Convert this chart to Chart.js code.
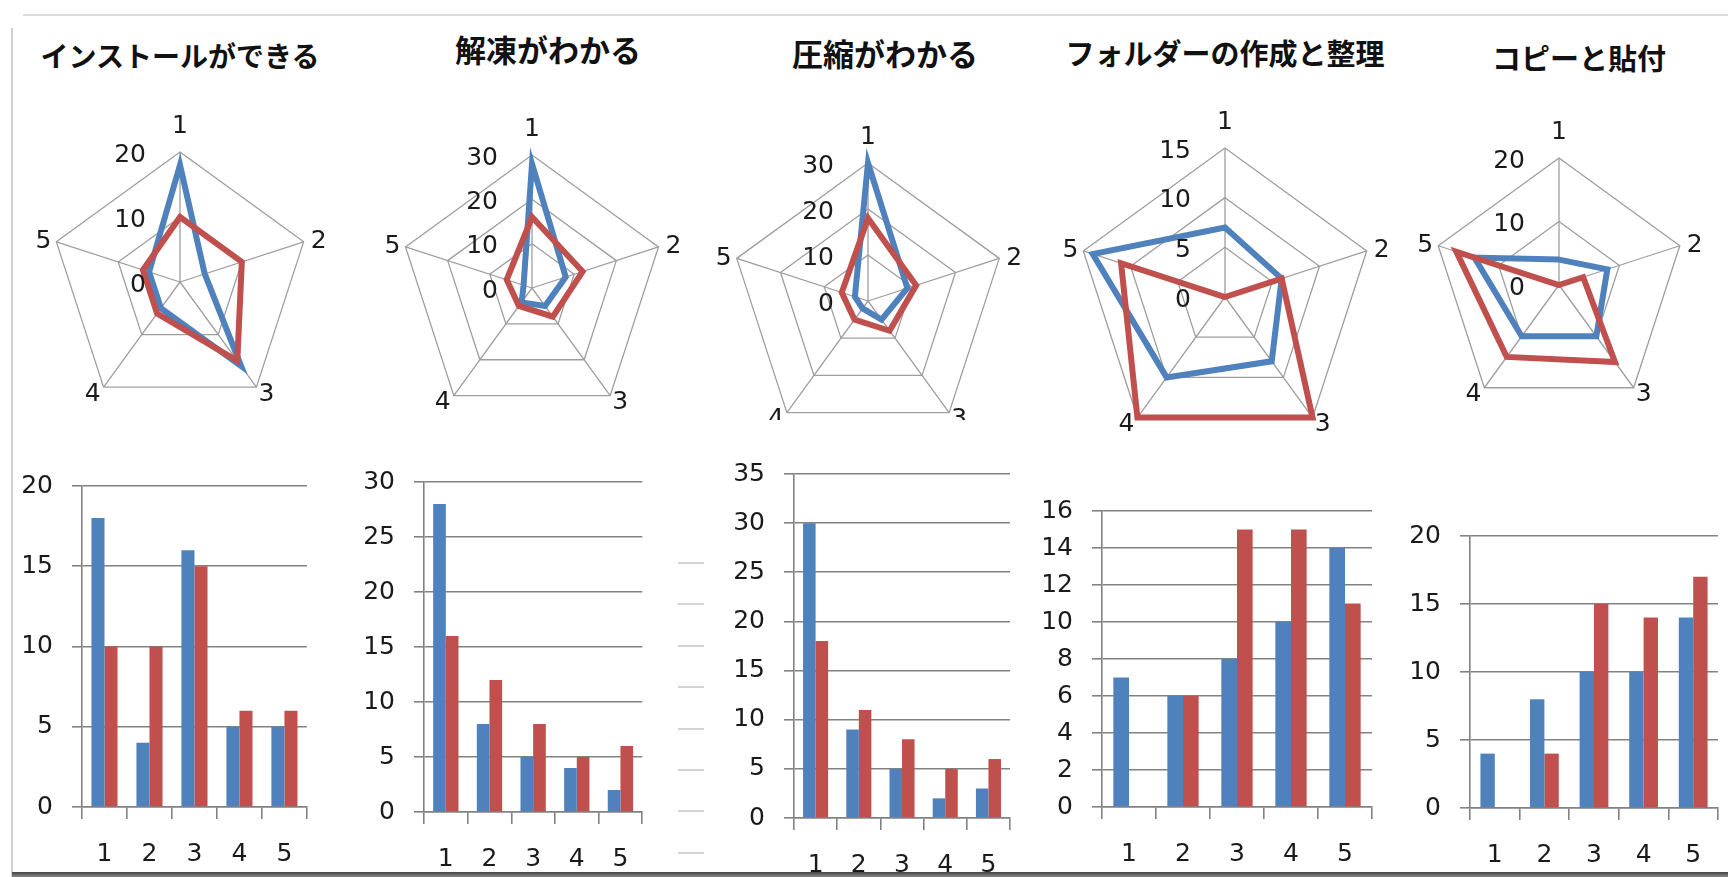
<!DOCTYPE html>
<html lang="ja">
<head>
<meta charset="utf-8">
<script src="https://cdn.jsdelivr.net/npm/chart.js@4.4.1/dist/chart.umd.min.js"></script>
<style>
  html, body { margin: 0; padding: 0; background: #fff; }
  body { width: 1728px; height: 877px; position: relative; overflow: hidden; }
  .title {
    position: absolute;
    font-family: "Noto Sans CJK JP", sans-serif;
    font-weight: 700;
    color: #111;
    white-space: nowrap;
    line-height: 1;
    transform: translate(-50%, -50%);
  }
  .frame-top { position: absolute; left: 23px; top: 14px; width: 1705px; height: 2px; background: #dcdcdc; }
  .frame-left { position: absolute; left: 11px; top: 28px; width: 2px; height: 849px; background: #d0d0d0; }
  .frame-bottom { position: absolute; left: 12px; top: 872px; width: 1716px; height: 5px; background: linear-gradient(#444, #8a8a8a); }
  .stubs {
    position: absolute; left: 678px; top: 562px; width: 26px; height: 294px;
    background: repeating-linear-gradient(to bottom, #d4d4d4 0, #d4d4d4 2px, transparent 2px, transparent 41.4px);
  }
</style>
</head>
<body>
<div class="frame-top"></div>
<div class="frame-left"></div>
<div class="stubs"></div>
<div class="frame-bottom"></div>
<script>
// ---- data ----
const titles = ["インストールができる", "解凍がわかる", "圧縮がわかる", "フォルダーの作成と整理", "コピーと貼付"];
const categories = ["1", "2", "3", "4", "5"];

const installS1 = [18, 4, 16, 5, 5];
const installS2 = [10, 10, 15, 6, 6];
const unzipS1 = [28, 8, 5, 4, 2];
const unzipS2 = [16, 12, 8, 5, 6];
const zipS1 = [30, 9, 5, 2, 3];
const zipS2 = [18, 11, 8, 5, 6];
const folderS1 = [7, 6, 8, 10, 14];
const folderS2 = [0, 6, 15, 15, 11];
const copyS1 = [4, 8, 10, 10, 14];
const copyS2 = [0, 4, 15, 14, 17];

const series1 = [installS1, unzipS1, zipS1, folderS1, copyS1];
const series2 = [installS2, unzipS2, zipS2, folderS2, copyS2];

// axis ranges (tick labels come from these)
const radarMax = [20, 30, 30, 15, 20];
const radarStep = [10, 10, 10, 5, 10];
const barMax = [20, 30, 35, 16, 20];
const barStep = [5, 5, 5, 2, 5];

// ---- layout ----
const titleX = [180, 548, 885, 1225, 1579];
const titleY = [55, 48, 52, 52, 57];
const titleSize = [28, 31, 31, 29, 29];

const radarCx = [180, 532, 868, 1225, 1559];
const radarCy = [282, 288, 301, 297, 285];
const radarR = [130, 133, 138, 149, 127];
const radarClip = [null, null, 420, 432, null];

const barAxisX = [82, 424, 794, 1102, 1470];
const barRight = [307, 643, 1011, 1372, 1718];
const barTop = [472, 468, 460, 497, 522];
const barZero = [807, 812, 818, 807, 808];

const BLUE = "#4F81BD";
const RED = "#C0504D";
const GRID = "#828282";
const TEXT = "#1a1a1a";
const LABEL_FONT = { family: "DejaVu Sans", size: 25 };

Chart.defaults.animation = false;
Chart.defaults.font.family = "DejaVu Sans";

titles.forEach((t, i) => {
  const d = document.createElement("div");
  d.className = "title";
  d.textContent = t;
  d.style.left = titleX[i] + "px";
  d.style.top = titleY[i] + "px";
  d.style.fontSize = titleSize[i] + "px";
  document.body.appendChild(d);
});

// value labels beside the first spoke and the 1..5 spoke labels
const radarText = {
  id: "radarText",
  afterDraw(chart) {
    const s = chart.scales.r;
    const ctx = chart.ctx;
    ctx.save();
    ctx.font = LABEL_FONT.size + "px " + LABEL_FONT.family;
    ctx.fillStyle = TEXT;
    ctx.textAlign = "right";
    ctx.textBaseline = "middle";
    s.ticks.forEach(t => {
      const y = s.yCenter - s.getDistanceFromCenterForValue(t.value);
      ctx.fillText(String(t.value), s.xCenter - 34, y + 3);
    });
    const offs = [[0, -26, "center"], [7, 0, "left"], [10, 7, "center"], [-11, 7, "center"], [-5, 0, "right"]];
    chart.data.labels.forEach((lab, i) => {
      const p = s.getPointPosition(i, s.drawingArea);
      ctx.textAlign = offs[i][2];
      ctx.fillText(lab, p.x + offs[i][0], p.y + offs[i][1]);
    });
    ctx.restore();
  }
};

function makeCanvas(parent, x, y, w, h) {
  const c = document.createElement("canvas");
  c.width = w;
  c.height = h;
  c.style.position = "absolute";
  c.style.left = x + "px";
  c.style.top = y + "px";
  parent.appendChild(c);
  return c;
}

// radar charts
radarCx.forEach((cx, k) => {
  const pad = 48;
  const r = radarR[k];
  const size = 2 * (r + pad);
  const left = cx - r - pad;
  const top = radarCy[k] - r - pad;
  const box = document.createElement("div");
  box.style.position = "absolute";
  box.style.left = left + "px";
  box.style.top = top + "px";
  box.style.width = size + "px";
  box.style.height = (radarClip[k] ? radarClip[k] - top : size) + "px";
  box.style.overflow = "hidden";
  document.body.appendChild(box);
  const cv = makeCanvas(box, 0, 0, size, size);

  new Chart(cv, {
    type: "radar",
    data: {
      labels: categories,
      datasets: [
        { data: series1[k], borderColor: BLUE, order: 1 },
        { data: series2[k], borderColor: RED, order: 0 }
      ]
    },
    options: {
      responsive: false,
      layout: { padding: pad },
      elements: {
        line: { borderWidth: 6, tension: 0, fill: false },
        point: { radius: 0, hoverRadius: 0 }
      },
      plugins: { legend: { display: false }, tooltip: { enabled: false } },
      scales: {
        r: {
          min: 0,
          max: radarMax[k],
          ticks: { display: false, stepSize: radarStep[k] },
          pointLabels: { display: false },
          grid: { color: "#9e9e9e", lineWidth: 1.3 },
          angleLines: { color: "#9e9e9e", lineWidth: 1.3 }
        }
      }
    },
    plugins: [radarText]
  });
});

// bar charts
barAxisX.forEach((ax, k) => {
  const yW = 80, xH = 72, padTop = 20, padRight = 6;
  const w = yW + (barRight[k] - ax) + padRight;
  const h = padTop + (barZero[k] - barTop[k]) + xH;
  const cv = makeCanvas(document.body, ax - yW, barTop[k] - padTop, w, h);

  new Chart(cv, {
    type: "bar",
    data: {
      labels: categories,
      datasets: [
        { data: series1[k], backgroundColor: BLUE },
        { data: series2[k], backgroundColor: RED }
      ]
    },
    options: {
      responsive: false,
      layout: { padding: { top: padTop, right: padRight, left: 0, bottom: 0 } },
      datasets: { bar: { categoryPercentage: 0.58, barPercentage: 1 } },
      plugins: { legend: { display: false }, tooltip: { enabled: false } },
      scales: {
        x: {
          grid: { drawOnChartArea: false, drawTicks: true, tickLength: 12, color: GRID, lineWidth: 1.6 },
          border: { color: GRID, width: 1.6 },
          ticks: { padding: 20, color: TEXT, font: LABEL_FONT, maxRotation: 0 },
          afterFit(s) { s.height = xH; }
        },
        y: {
          min: 0,
          max: barMax[k],
          grid: { color: GRID, lineWidth: 1.6, tickLength: 10 },
          border: { color: GRID, width: 1.6 },
          ticks: { stepSize: barStep[k], padding: 19, color: TEXT, font: LABEL_FONT },
          afterFit(s) { s.width = yW; }
        }
      }
    }
  });
});
</script>
</body>
</html>
